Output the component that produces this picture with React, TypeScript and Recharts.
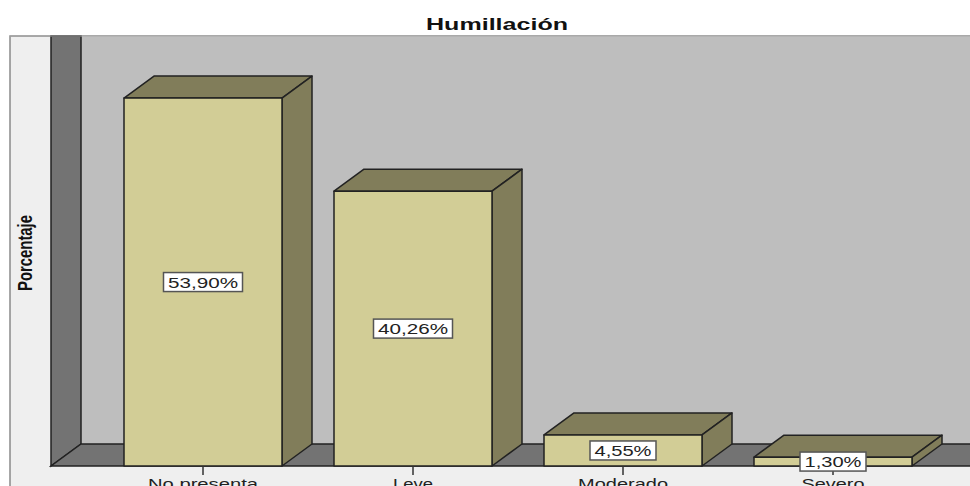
import { Bar, BarChart, LabelList, XAxis, YAxis } from 'recharts'

const categories = ['No presenta', 'Leve', 'Moderado', 'Severo']
const percentages = [53.9, 40.26, 4.55, 1.3]
const labels = ['53,90%', '40,26%', '4,55%', '1,30%']
const tickWidths = [110, 40, 90, 63]

const data = categories.map((name, i) => ({ name, value: percentages[i], label: labels[i] }))

const W = 970
const H = 486
const BASE = 466
const TOP = 36
const DX = 30
const DY = 22
const INK = '#222'
const FONT = '"Liberation Sans", Arial, sans-serif'

function Bar3D({ x, y, width, height }: any) {
  const r = x + width
  const b = y + height
  return (
    <g stroke={INK} strokeWidth={1.5} strokeLinejoin="round">
      <polygon points={`${x},${y} ${x + DX},${y - DY} ${r + DX},${y - DY} ${r},${y}`} fill="#817d5a" />
      <polygon points={`${r},${y} ${r + DX},${y - DY} ${r + DX},${b - DY} ${r},${b}`} fill="#817d5a" />
      <rect x={x} y={y} width={width} height={height} fill="#d2cd96" />
    </g>
  )
}

function ValueBox({ x, y, width, height, value }: any) {
  const long = String(value).length > 5
  const w = long ? 79 : 66
  const cx = x + width / 2
  const cy = y + height / 2
  return (
    <g>
      <rect x={cx - w / 2} y={cy - 9.5} width={w} height={19} fill="#fff" stroke="#555" strokeWidth={1.5} />
      <text x={cx} y={cy + 5.5} textAnchor="middle" fontFamily={FONT} fontSize={15.5} fill="#222"
        textLength={long ? 70 : 57} lengthAdjust="spacingAndGlyphs">{value}</text>
    </g>
  )
}

function CategoryTick({ x, payload, index }: any) {
  return (
    <g>
      <line x1={x} x2={x} y1={BASE} y2={BASE + 9} stroke="#333" strokeWidth={1.5} />
      <text x={x} y={489} textAnchor="middle" fontFamily={FONT} fontSize={15.5} fill="#222"
        textLength={tickWidths[index]} lengthAdjust="spacingAndGlyphs">{payload.value}</text>
    </g>
  )
}

export default function App() {
  return (
    <div style={{ position: 'absolute', left: 0, top: 0, width: W, height: H, background: '#fff', overflow: 'hidden' }}>
      <BarChart width={W} height={H} data={data} margin={{ top: TOP, right: 32, bottom: 0, left: 98 }}>
        {/* chart frame, walls and floor */}
        <g>
          <rect x={10} y={TOP} width={W} height={H} fill="#efefef" stroke="#8a8a8a" strokeWidth={1.5} />
          <rect x={81} y={TOP} width={W} height={BASE - DY - TOP} fill="#bebebe" />
          <polygon points={`51,${TOP} 81,${TOP} 81,${BASE - DY} 51,${BASE}`} fill="#737373" stroke={INK} strokeWidth={1.5} />
          <polygon points={`81,${BASE - DY} ${W + 2},${BASE - DY} ${W + 2},${BASE} 51,${BASE}`} fill="#737373" stroke={INK} strokeWidth={1.5} />
          <line x1={10} x2={W} y1={TOP} y2={TOP} stroke="#aaa" strokeWidth={1} />
        </g>
        <text x={497} y={30} textAnchor="middle" fontFamily={FONT} fontWeight="bold" fontSize={16} fill="#111"
          textLength={142} lengthAdjust="spacingAndGlyphs">Humillación</text>
        <text transform="translate(32,253) rotate(-90)" textAnchor="middle" fontFamily={FONT} fontWeight="bold" fontSize={20} fill="#111"
          textLength={76} lengthAdjust="spacingAndGlyphs">Porcentaje</text>
        <YAxis hide domain={[0, 63]} />
        <XAxis dataKey="name" axisLine={false} tickLine={false} interval={0} height={H - BASE} tick={<CategoryTick />} />
        <Bar dataKey="value" barSize={158} shape={<Bar3D />} isAnimationActive={false}>
          <LabelList dataKey="label" content={<ValueBox />} />
        </Bar>
      </BarChart>
    </div>
  )
}
